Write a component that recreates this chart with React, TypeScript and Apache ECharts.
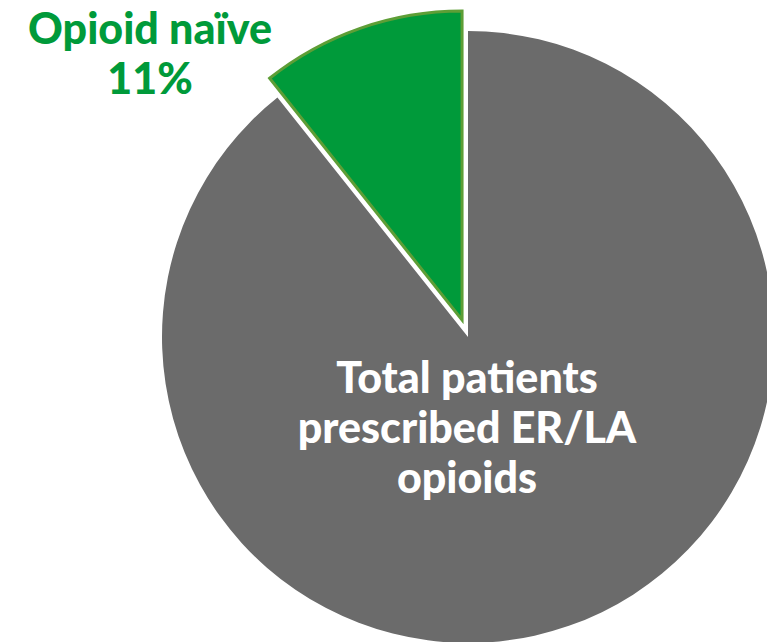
import React, { useEffect, useRef } from "react";
import * as echarts from "echarts";

const categories = ["Total patients prescribed ER/LA opioids", "Opioid naïve"];
const values = [89.3, 10.7];
const colors = ["#6b6b6b", "#009a3a"];
const greenLabel = ["Opioid naïve", "11%"];
const greyLabel = ["Total patients", "prescribed ER/LA", "opioids"];

export default function App() {
  const ref = useRef<HTMLDivElement>(null);
  useEffect(() => {
    document.body.style.margin = "0";
    const chart = echarts.init(ref.current!, null, { renderer: "svg" });
    const font = "Lato, 'Open Sans', sans-serif";
    const base = {
      type: "pie",
      center: [468, 337],
      startAngle: 90,
      clockwise: true,
      selectedMode: "multiple",
      selectedOffset: 18,
      label: { show: false },
      labelLine: { show: false },
      emphasis: { disabled: true },
      silent: true,
    };
    chart.setOption({
      animation: false,
      backgroundColor: "#ffffff",
      series: [
        {
          ...base,
          radius: [0, 306],
          data: categories.map((name, i) => ({
            name,
            value: values[i],
            itemStyle: {
              color: i === 0 ? colors[i] : "rgba(0,0,0,0)",
              borderWidth: 0,
            },
          })),
        },
        {
          ...base,
          radius: [0, 309],
          data: categories.map((name, i) => ({
            name,
            value: values[i],
            selected: i === 1,
            itemStyle: {
              color: i === 1 ? colors[i] : "rgba(0,0,0,0)",
              borderColor: i === 1 ? "#5e9e36" : "rgba(0,0,0,0)",
              borderWidth: i === 1 ? 3 : 0,
              borderJoin: "miter",
            },
          })),
        },
      ],
      graphic: [
        {
          type: "text",
          x: 150,
          y: 2,
          z: 100,
          style: {
            text: greenLabel.join("\n"),
            font: `900 43px ${font}`,
            fill: "#009a3a",
            align: "center",
            verticalAlign: "top",
            lineHeight: 50,
          },
        },
        {
          type: "text",
          x: 467,
          y: 351,
          z: 100,
          style: {
            text: greyLabel.join("\n"),
            font: `900 43px ${font}`,
            fill: "#ffffff",
            align: "center",
            verticalAlign: "top",
            lineHeight: 50,
          },
        },
      ],
    });
    return () => chart.dispose();
  }, []);
  return (
    <div
      ref={ref}
      style={{ position: "fixed", left: 0, top: 0, width: 767, height: 642 }}
    />
  );
}
